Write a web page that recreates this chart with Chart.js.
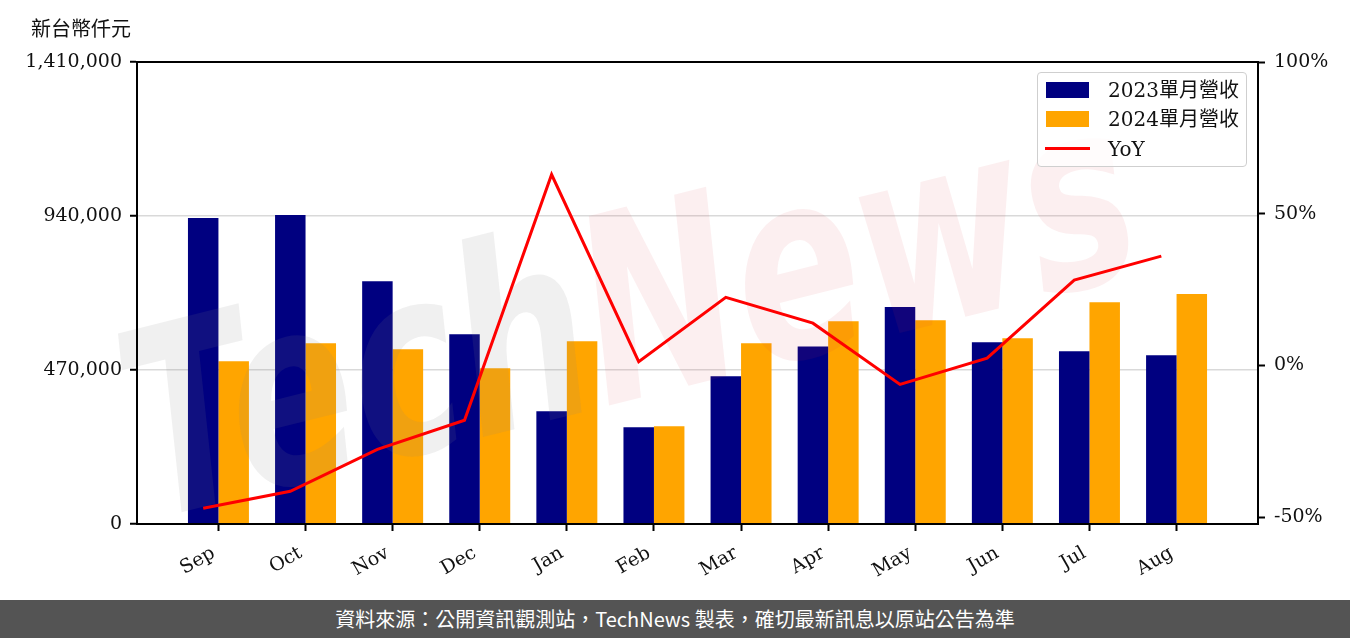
<!DOCTYPE html>
<html><head><meta charset="utf-8">
<script src="https://cdn.jsdelivr.net/npm/chart.js@4"></script>
<style>
html,body{margin:0;padding:0;background:#fff;}
body{width:1350px;height:638px;overflow:hidden;position:relative;font-family:"DejaVu Serif","Noto Sans CJK TC",serif;}
#wrap{position:absolute;left:0;top:0;width:1350px;height:600px;}
#unit{position:absolute;left:31px;top:13px;font-size:20px;color:#111;}
#legend{position:absolute;left:1037px;top:72px;width:208px;height:93px;border:1px solid #cfcfcf;border-radius:4px;background:rgba(255,255,255,0.8);}
.row{position:absolute;left:0;height:20px;width:208px;}
.sw{position:absolute;left:8px;top:2px;width:43px;height:16px;}
.ln{position:absolute;left:7px;top:8px;width:45px;height:3px;}
.tx{position:absolute;left:70px;top:-3px;font-size:20px;line-height:26px;color:#111;white-space:nowrap;}
#footer{position:absolute;left:0;top:600px;width:1350px;height:38px;background:#545454;color:#fff;font-family:"Noto Sans CJK TC",sans-serif;font-size:20px;text-align:center;line-height:38px;}
</style></head>
<body>
<div id="wrap"><canvas id="c" width="1350" height="600"></canvas></div>
<div id="unit">新台幣仟元</div>
<div id="legend"></div>
<div id="footer">資料來源：公開資訊觀測站，TechNews 製表，確切最新訊息以原站公告為準</div>
<script>
const months = ['Sep','Oct','Nov','Dec','Jan','Feb','Mar','Apr','May','Jun','Jul','Aug'];
const rev2023 = [934000, 943000, 741000, 579000, 344000, 295000, 451000, 542000, 662000, 555000, 527000, 515000];
const rev2024 = [497000, 552000, 533000, 475000, 558000, 298000, 552000, 619000, 622000, 567000, 677000, 702000];
const yoy = [-47.1, -41.5, -27.7, -18.1, 62.9, 1.2, 22.4, 13.9, -6.3, 2.4, 28.1, 36.0];
const leftTicks = [0, 470000, 940000, 1410000];
const rightTicks = [-50, 0, 50, 100];
const seriesNames = ['2023單月營收', '2024單月營收', 'YoY'];
const colors = ['#000080', '#ffa500', '#ff0000'];
const BAR_W = 0.35; // bar width in category units; the YoY line sits on the 2023 bar centres

const FONT = {family: '"DejaVu Serif","Noto Sans CJK TC",serif', size: 19};

// legend
const lg = document.getElementById('legend');
seriesNames.forEach((n, i) => {
  const r = document.createElement('div');
  r.className = 'row';
  r.style.top = [7, 36, 66][i] + 'px';
  const s = document.createElement('div');
  s.className = i < 2 ? 'sw' : 'ln';
  s.style.background = colors[i];
  const t = document.createElement('div');
  t.className = 'tx';
  t.textContent = n;
  r.appendChild(s); r.appendChild(t);
  lg.appendChild(r);
});

const frame = {
  id: 'frame',
  beforeDatasetDraw(chart, args) {
    if (args.index !== 2) return;
    const ctx = chart.ctx;
    ctx.save();
    ctx.translate(150, 520);
    ctx.rotate(-14 * Math.PI / 180);
    ctx.scale(1, 1.4);
    ctx.font = 'italic bold 185px "DejaVu Sans"';
    ctx.textBaseline = 'alphabetic';
    ctx.fillStyle = 'rgba(128,128,128,0.12)';
    ctx.fillText('Tech', 0, 0);
    const w = ctx.measureText('Tech').width;
    ctx.fillStyle = 'rgba(220,50,70,0.08)';
    ctx.fillText('News', w, 0);
    ctx.restore();
  },
  afterDraw(chart) {
    const {ctx, chartArea: a} = chart;
    ctx.save();
    ctx.strokeStyle = '#000';
    ctx.lineWidth = 2;
    ctx.strokeRect(a.left, a.top, a.right - a.left, a.bottom - a.top);
    ctx.restore();
  }
};

new Chart(document.getElementById('c'), {
  type: 'bar',
  data: {
    datasets: [
      {label: seriesNames[0], data: rev2023.map((v, i) => ({x: i, y: v})), backgroundColor: colors[0], yAxisID: 'y', order: 1, categoryPercentage: 2 * BAR_W, barPercentage: 1.0},
      {label: seriesNames[1], data: rev2024.map((v, i) => ({x: i, y: v})), backgroundColor: colors[1], yAxisID: 'y', order: 1, categoryPercentage: 2 * BAR_W, barPercentage: 1.0},
      {type: 'line', label: seriesNames[2], data: yoy.map((v, i) => ({x: i - BAR_W / 2, y: v})), borderColor: colors[2], borderWidth: 3, pointRadius: 0, tension: 0, yAxisID: 'y1', order: 0}
    ]
  },
  options: {
    responsive: false,
    animation: false,
    devicePixelRatio: 1,
    layout: {padding: {top: 62, left: 0, right: 0, bottom: 0}},
    plugins: {legend: {display: false}, tooltip: {enabled: false}},
    scales: {
      x: {
        type: 'linear', min: -0.935, max: 11.935, offset: false,
        afterBuildTicks: s => { s.ticks = months.map((m, i) => ({value: i})); },
        afterFit: s => { s.height = 76; },
        grid: {drawOnChartArea: false, offset: false, tickLength: 7, tickColor: '#000', tickWidth: 2},
        border: {color: '#000', width: 2},
        ticks: {font: FONT, color: '#111', minRotation: 30, maxRotation: 30, autoSkip: false, padding: 11, labelOffset: -5, callback: v => months[v]}
      },
      y: {
        position: 'left', min: 0, max: 1410000,
        afterBuildTicks: s => { s.ticks = leftTicks.map(v => ({value: v})); },
        afterFit: s => { s.width = 137; },
        grid: {color: '#d9d9d9', lineWidth: 1.5, tickColor: '#000', tickLength: 7, tickWidth: 2},
        border: {color: '#000', width: 2},
        ticks: {font: FONT, color: '#111', padding: 8, callback: v => v.toLocaleString('en-US')}
      },
      y1: {
        position: 'right', min: -52.3, max: 100,
        afterBuildTicks: s => { s.ticks = rightTicks.map(v => ({value: v})); },
        afterFit: s => { s.width = 92; },
        grid: {drawOnChartArea: false, tickColor: '#000', tickLength: 7, tickWidth: 2},
        border: {color: '#000', width: 2},
        ticks: {font: FONT, color: '#111', padding: 9, callback: v => v + '%'}
      }
    }
  },
  plugins: [frame]
});
</script>
</body></html>
